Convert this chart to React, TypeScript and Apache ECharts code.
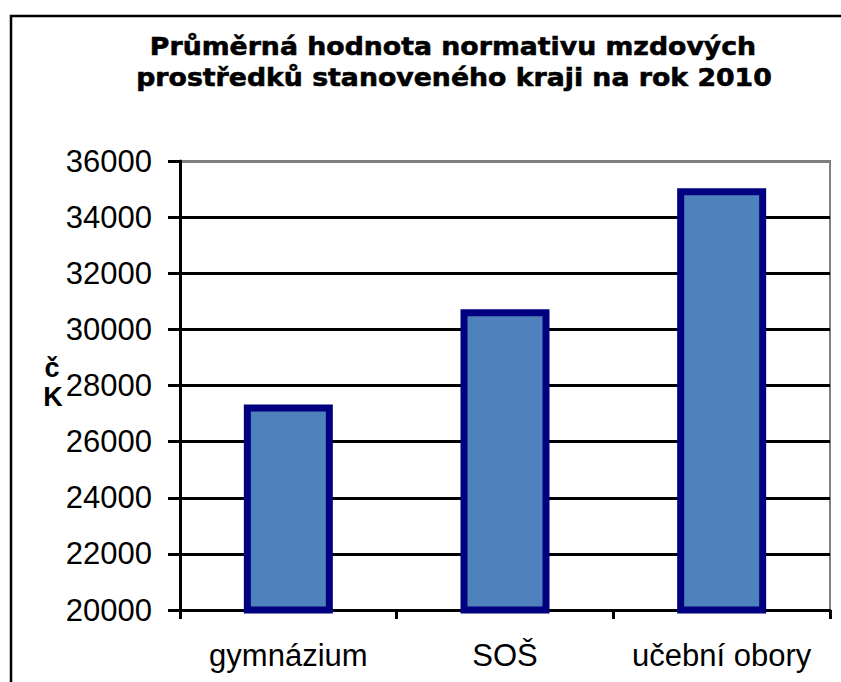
import React, { useEffect, useRef } from "react";
import * as echarts from "echarts";

const titleLines = [
  "Průměrná hodnota normativu mzdových",
  "prostředků stanoveného kraji na rok 2010",
];
const categories = ["gymnázium", "SOŠ", "učební obory"];
const values = [27320, 30720, 35030];
const yMin = 20000;
const yMax = 36000;
const yStep = 2000;
const yAxisNameTop = "č";
const yAxisNameBottom = "K";

export default function App() {
  const ref = useRef<HTMLDivElement>(null);
  useEffect(() => {
    if (!ref.current) return;
    const chart = echarts.init(ref.current, null, { renderer: "svg" });
    const gridColors: string[] = [];
    for (let v = yMin; v <= yMax; v += yStep) {
      gridColors.push(v === yMax ? "#808080" : "#000000");
    }
    chart.setOption({
      animation: false,
      backgroundColor: "#ffffff",
      grid: {
        left: 180,
        right: 11,
        top: 161,
        bottom: 72,
        show: true,
        backgroundColor: "transparent",
        borderColor: "#808080",
        borderWidth: 2,
      },
      xAxis: {
        type: "category",
        data: categories,
        axisLine: { lineStyle: { color: "#000", width: 3 } },
        axisTick: { show: true, length: 9, lineStyle: { color: "#000", width: 3 } },
        axisLabel: {
          color: "#000",
          interval: 0,
          fontFamily: "Liberation Sans, Arial, sans-serif",
          fontSize: 31,
          margin: 30,
        },
      },
      yAxis: {
        type: "value",
        min: yMin,
        max: yMax,
        interval: yStep,
        axisLine: { show: true, lineStyle: { color: "#000", width: 3 } },
        axisTick: { show: true, length: 12, lineStyle: { color: "#000", width: 3 } },
        axisLabel: {
          color: "#000",
          fontFamily: "Liberation Sans, Arial, sans-serif",
          fontSize: 31,
          margin: 28,
          formatter: (v: number) => String(v),
        },
        splitLine: { show: true, lineStyle: { color: gridColors, width: 3 } },
      },
      series: [
        {
          type: "bar",
          data: values,
          barWidth: 89,
          itemStyle: {
            color: "#4F81BD",
            borderColor: "#000080",
            borderWidth: 7,
          },
        },
      ],
      graphic: [
        {
          type: "rect",
          shape: { x: 11, y: 16, width: 900, height: 900 },
          style: { fill: "none", stroke: "#000", lineWidth: 2.5 },
          silent: true,
        },
        {
          type: "text",
          x: 453,
          y: 46,
          scaleX: 1.07,
          style: {
            text: titleLines[0],
            textAlign: "center",
            textVerticalAlign: "middle",
            font: "bold 25px 'DejaVu Sans', Verdana, sans-serif",
            fill: "#000",
            stroke: "#000",
            lineWidth: 0.6,
          },
        },
        {
          type: "text",
          x: 454,
          y: 77,
          scaleX: 1.07,
          style: {
            text: titleLines[1],
            textAlign: "center",
            textVerticalAlign: "middle",
            font: "bold 25px 'DejaVu Sans', Verdana, sans-serif",
            fill: "#000",
            stroke: "#000",
            lineWidth: 0.6,
          },
        },
        {
          type: "text",
          x: 52,
          y: 368,
          style: {
            text: yAxisNameTop,
            textAlign: "center",
            textVerticalAlign: "middle",
            font: "bold 27px 'Liberation Sans', Arial, sans-serif",
            fill: "#000",
          },
        },
        {
          type: "text",
          x: 53,
          y: 397,
          style: {
            text: yAxisNameBottom,
            textAlign: "center",
            textVerticalAlign: "middle",
            font: "bold 27px 'Liberation Sans', Arial, sans-serif",
            fill: "#000",
          },
        },
      ],
    });
    return () => chart.dispose();
  }, []);
  return (
    <div
      ref={ref}
      style={{ position: "fixed", left: 0, top: 0, width: 841, height: 682 }}
    />
  );
}
